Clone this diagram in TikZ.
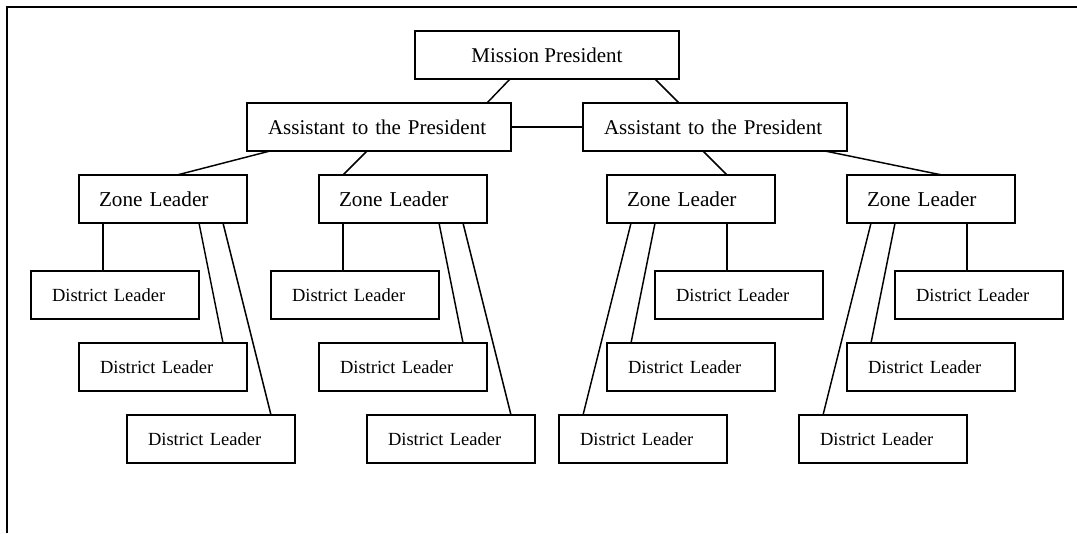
\documentclass[tikz,border=0pt]{standalone}
\usepackage{fontspec}
\setmainfont{Liberation Serif}
\usetikzlibrary{positioning}

\tikzset{
  orgbox/.style={draw, line width=1.5pt, inner sep=0pt, outer sep=0pt, minimum height=36pt},
  topbox/.style={orgbox, minimum width=198pt, align=center, font=\fontsize{15.75}{18}\selectfont},
  asstbox/.style={topbox, text width=166.5pt, align=left},
  zonebox/.style={orgbox, minimum width=126pt, text width=96pt, align=left, font=\fontsize{15.9}{18}\selectfont},
  distbox/.style={orgbox, minimum width=126pt, text width=94.5pt, align=left, font=\fontsize{13.9}{16}\selectfont},
  link/.style={line width=1.1pt}
}

\begin{document}
\begin{tikzpicture}[x=0.75pt,y=-0.75pt]
        \useasboundingbox (0,0) rectangle (1077,533);
        \draw[line width=1.5pt] (1077,6.5) -- (7,6.5) -- (7,533);
        % top of the tree
        \node[topbox] (mp) at (547,55) {Mission President};
        \node[asstbox, below=18pt of mp, xshift=-126pt] (ap1) {Assistant to the President};
        \node[asstbox, below=18pt of mp, xshift=126pt] (ap2) {Assistant to the President};
        % zones
        \node[zonebox, below=18pt of ap1, xshift=-162pt] (zl1) {Zone Leader};
        \node[zonebox, below=18pt of ap1, xshift=18pt] (zl2) {Zone Leader};
        \node[zonebox, below=18pt of ap2, xshift=-18pt] (zl3) {Zone Leader};
        \node[zonebox, below=18pt of ap2, xshift=162pt] (zl4) {Zone Leader};
        % districts
        \node[distbox, below=36pt of zl1, xshift=-36pt] (dl1a) {District Leader};
        \node[distbox, below=18pt of dl1a, xshift=36pt] (dl1b) {District Leader};
        \node[distbox, below=18pt of dl1b, xshift=36pt] (dl1c) {District Leader};
        \node[distbox, below=36pt of zl2, xshift=-36pt] (dl2a) {District Leader};
        \node[distbox, below=18pt of dl2a, xshift=36pt] (dl2b) {District Leader};
        \node[distbox, below=18pt of dl2b, xshift=36pt] (dl2c) {District Leader};
        \node[distbox, below=36pt of zl3, xshift=36pt] (dl3a) {District Leader};
        \node[distbox, below=18pt of dl3a, xshift=-36pt] (dl3b) {District Leader};
        \node[distbox, below=18pt of dl3b, xshift=-36pt] (dl3c) {District Leader};
        \node[distbox, below=36pt of zl4, xshift=36pt] (dl4a) {District Leader};
        \node[distbox, below=18pt of dl4a, xshift=-36pt] (dl4b) {District Leader};
        \node[distbox, below=18pt of dl4b, xshift=-36pt] (dl4c) {District Leader};
        % links
        \draw[link] ([xshift=-27.75pt]mp.south) -- ([xshift=81pt]ap1.north);
        \draw[link] ([xshift=81pt]mp.south) -- ([xshift=-27pt]ap2.north);
        \draw[link] (ap1) -- (ap2);
        \draw[link] ([xshift=-81.75pt]ap1.south) -- ([xshift=10.5pt]zl1.north);
        \draw[link] ([xshift=-9pt]ap1.south) -- ([xshift=-45pt]zl2.north);
        \draw[link] ([xshift=-9pt]ap2.south) -- ([xshift=27pt]zl3.north);
        \draw[link] ([xshift=82.5pt]ap2.south) -- ([xshift=8.25pt]zl4.north);
        \draw[link] ([xshift=-45pt]zl1.south) -- ([xshift=-9pt]dl1a.north);
        \draw[link] ([xshift=27pt]zl1.south) -- ([xshift=45pt]dl1b.north);
        \draw[link] ([xshift=45pt]zl1.south) -- ([xshift=45pt]dl1c.north);
        \draw[link] ([xshift=-45pt]zl2.south) -- ([xshift=-9pt]dl2a.north);
        \draw[link] ([xshift=27pt]zl2.south) -- ([xshift=45pt]dl2b.north);
        \draw[link] ([xshift=45pt]zl2.south) -- ([xshift=45pt]dl2c.north);
        \draw[link] ([xshift=27pt]zl3.south) -- ([xshift=-9pt]dl3a.north);
        \draw[link] ([xshift=-27pt]zl3.south) -- ([xshift=-45pt]dl3b.north);
        \draw[link] ([xshift=-45pt]zl3.south) -- ([xshift=-45pt]dl3c.north);
        \draw[link] ([xshift=27pt]zl4.south) -- ([xshift=-9pt]dl4a.north);
        \draw[link] ([xshift=-27pt]zl4.south) -- ([xshift=-45pt]dl4b.north);
        \draw[link] ([xshift=-45pt]zl4.south) -- ([xshift=-45pt]dl4c.north);
    \end{tikzpicture}
\end{document}
